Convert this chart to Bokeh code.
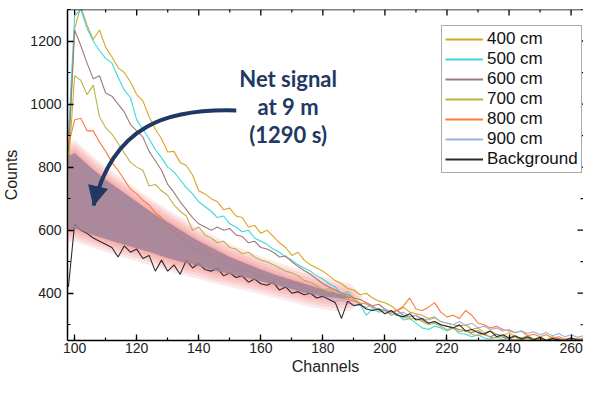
from bokeh.plotting import figure
from bokeh.models import (ColumnDataSource, Range1d, SingleIntervalTicker,
                          Legend, LegendItem, Arrow, NormalHead, Span)
from bokeh.core.properties import value
from bokeh.embed import file_html
from bokeh.resources import INLINE

# ---------------- data ----------------
channels = list(range(98, 266, 2))

s400 = [820, 1240, 1310, 1250, 1205, 1235, 1180, 1150, 1115, 1100,
        1070, 1030, 1010, 960, 920, 890, 848, 850, 815, 805,
        775, 725, 715, 700, 690, 665, 670, 645, 640, 610,
        615, 590, 600, 580, 560, 545, 520, 530, 505, 490,
        480, 470, 455, 440, 430, 415, 410, 395, 400, 385,
        375, 370, 360, 345, 355, 340, 335, 330, 320, 325,
        310, 305, 300, 295, 300, 285, 290, 275, 280, 270,
        265, 275, 262, 258, 265, 255, 260, 252, 262, 255,
        252, 258, 250, 255]
s500 = [900, 1280, 1300, 1240, 1200, 1170, 1145, 1130, 1085, 1045,
        1020, 950, 920, 890, 855, 830, 800, 785, 760, 735,
        715, 690, 675, 660, 640, 645, 620, 610, 595, 600,
        575, 565, 555, 540, 530, 515, 505, 490, 480, 470,
        455, 445, 430, 420, 395, 405, 380, 365, 330, 350,
        340, 345, 330, 335, 315, 320, 305, 290, 285, 295,
        290, 280, 290, 272, 270, 262, 268, 258, 255, 262,
        252, 258, 250, 255, 262, 252, 256, 250, 258, 252,
        250, 255, 252, 250]
s600 = [850, 1235, 1185, 1130, 1080, 1090, 1035, 1025, 1000, 975,
        935, 915, 895, 850, 820, 790, 745, 720, 690, 665,
        640, 620, 610, 600, 610, 600, 605, 585, 580, 560,
        565, 545, 540, 530, 515, 518, 500, 485, 472, 460,
        445, 430, 420, 410, 400, 395, 385, 380, 370, 360,
        365, 350, 340, 345, 330, 325, 330, 315, 305, 310,
        300, 295, 290, 285, 280, 275, 282, 268, 262, 270,
        260, 255, 262, 252, 258, 250, 255, 252, 250, 256,
        250, 252, 250, 252]
s700 = [800, 1090, 1075, 1030, 1060, 960, 925, 905, 875, 845,
        815, 800, 790, 740, 745, 725, 710, 680, 660, 645,
        600, 610, 585, 575, 560, 565, 545, 540, 525, 530,
        515, 505, 500, 490, 480, 470, 465, 455, 440, 435,
        425, 410, 415, 400, 390, 395, 380, 370, 365, 355,
        350, 345, 335, 330, 325, 318, 320, 310, 300, 305,
        295, 285, 290, 278, 282, 270, 265, 272, 260, 258,
        265, 255, 252, 260, 250, 256, 252, 250, 256, 250,
        254, 250, 256, 250]
s800 = [870, 950, 955, 915, 915, 880, 850, 815, 790, 760,
        730, 715, 695, 680, 655, 640, 610, 595, 575, 565,
        545, 535, 525, 520, 505, 500, 490, 485, 480, 470,
        465, 455, 450, 445, 440, 430, 435, 425, 420, 410,
        405, 400, 395, 400, 385, 380, 375, 365, 370, 355,
        350, 345, 340, 345, 360, 385, 350, 345, 355, 370,
        340, 325, 330, 320, 345, 330, 305, 300, 290, 295,
        285, 280, 275, 280, 265, 270, 262, 268, 258, 262,
        255, 258, 252, 258]
s900 = [780, 835, 815, 800, 780, 750, 735, 710, 695, 675,
        680, 655, 635, 605, 615, 595, 585, 575, 555, 545,
        535, 525, 515, 505, 500, 490, 485, 475, 470, 460,
        455, 450, 440, 435, 430, 420, 415, 410, 405, 400,
        395, 390, 385, 375, 380, 370, 365, 360, 355, 360,
        345, 350, 340, 335, 340, 325, 330, 320, 315, 322,
        310, 305, 300, 310, 298, 305, 290, 295, 285, 290,
        280, 285, 275, 280, 272, 278, 268, 275, 265, 272,
        262, 268, 260, 265]
sbg = [420, 620, 600, 590, 575, 565, 555, 545, 515, 550,
       530, 540, 510, 520, 470, 505, 470, 490, 460, 505,
       480, 495, 475, 470, 480, 455, 465, 450, 455, 435,
       445, 430, 425, 435, 410, 420, 400, 405, 395, 400,
       385, 390, 380, 370, 320, 375, 360, 365, 350, 345,
       350, 335, 345, 330, 325, 335, 315, 320, 305, 310,
       300, 295, 290, 300, 280, 285, 275, 270, 280, 262,
       268, 258, 265, 255, 262, 252, 260, 250, 256, 252,
       250, 258, 252, 250]

series_names = ["400 cm", "500 cm", "600 cm", "700 cm", "800 cm", "900 cm", "Background"]
series_values = [s400, s500, s600, s700, s800, s900, sbg]
series_colors = ["#DAA520", "#3DD8DC", "#A07A7A", "#BDB24A", "#FF7A3C", "#98B4E0", "#2B2B2B"]

# net-signal band (smooth envelope)
band_ch = [98, 100, 105, 110, 115, 120, 125, 130, 135, 140, 145, 150, 155, 160, 165, 170, 175, 180, 185, 189]
band_top = [835, 845, 800, 760, 725, 690, 655, 625, 595, 565, 540, 515, 495, 475, 458, 442, 428, 412, 398, 388]
band_bot = [600, 605, 588, 572, 557, 543, 528, 512, 498, 486, 472, 461, 450, 438, 425, 413, 400, 390, 384, 384]

note_lines = ["Net signal", "at 9 m", "(1290 s)"]
note_x = [168.8, 168.8, 168.8]
note_y = [1081, 992, 903]

# arrow (cubic bezier in data coords)
arrow_p0 = (152.1, 979.6)
arrow_c0 = (129.5, 985.9)
arrow_c1 = (112.5, 932.0)
arrow_tip = (106.1, 678.2)
arrow_base = (107.6, 739.7)

x_major = list(range(100, 261, 20))
x_minor = list(range(110, 261, 20))
y_major = list(range(400, 1201, 200))
y_minor = list(range(300, 1301, 200))

NAVY = "#1F3864"
FONT = "Liberation Sans"
X0, X1, Y0, Y1 = 97.7, 264.0, 250, 1300
W, H = 583, 380
BL, BT, BB = 66, 9, 40
FRAME_W, FRAME_H = W - BL, H - BT - BB
XPX = FRAME_W / (X1 - X0)
YPX = FRAME_H / (Y1 - Y0)

# ---------------- figure ----------------
p = figure(width=W, height=H, x_range=Range1d(X0, X1), y_range=Range1d(Y0, Y1),
           output_backend="svg", toolbar_location=None,
           min_border_left=BL, min_border_right=0, min_border_top=BT, min_border_bottom=BB)
p.xgrid.visible = False
p.ygrid.visible = False
p.outline_line_color = None
p.background_fill_color = "white"
p.border_fill_color = "white"

for ax, tk in [(p.xaxis[0], SingleIntervalTicker(interval=20, num_minor_ticks=2)),
               (p.yaxis[0], SingleIntervalTicker(interval=200, num_minor_ticks=2))]:
    ax.ticker = tk
    ax.axis_line_color = "black"
    ax.axis_line_width = 1.5
    ax.major_tick_line_color = "black"
    ax.minor_tick_line_color = "black"
    ax.major_tick_line_width = 1.3
    ax.minor_tick_line_width = 1.2
    ax.major_tick_in = 6
    ax.major_tick_out = 0
    ax.minor_tick_in = 3
    ax.minor_tick_out = 0
    ax.major_label_text_font = FONT
    ax.major_label_text_font_size = "14px"
    ax.major_label_text_color = "#222222"
    ax.axis_label_text_font = FONT
    ax.axis_label_text_font_size = "16px"
    ax.axis_label_text_font_style = "normal"
    ax.axis_label_text_color = "#222222"
p.xaxis.axis_label = "Channels"
p.yaxis.axis_label = "Counts"
p.xaxis.major_label_standoff = 2
p.xaxis.axis_label_standoff = 2
p.yaxis.major_label_standoff = 6
p.yaxis.axis_label_standoff = 7

# mirror frame line and ticks (top / right)
p.add_layout(Span(location=Y1, dimension="width", line_color="black", line_width=1.5))
p.segment(x0=x_major, x1=x_major, y0=[Y1] * len(x_major), y1=[Y1 - 6 / YPX] * len(x_major),
          line_color="black", line_width=1.3)
p.segment(x0=x_minor, x1=x_minor, y0=[Y1] * len(x_minor), y1=[Y1 - 3 / YPX] * len(x_minor),
          line_color="black", line_width=1.2)
p.segment(x0=[X1] * len(y_major), x1=[X1 - 6 / XPX] * len(y_major), y0=y_major, y1=y_major,
          line_color="black", line_width=1.3)
p.segment(x0=[X1] * len(y_minor), x1=[X1 - 3 / XPX] * len(y_minor), y0=y_minor, y1=y_minor,
          line_color="black", line_width=1.2)

# glow around the net-signal band (layered, slightly expanded copies)
for d in [13, 10, 7, 4, 1.5]:
    gx = [band_ch[0] - d / XPX] + band_ch + [band_ch[-1] + d / XPX] + band_ch[::-1]
    mid_end = (band_top[-1] + band_bot[-1]) / 2
    mid_start = (band_top[0] + band_bot[0]) / 2
    gy = [mid_start] + [t + d / YPX for t in band_top] + [mid_end] + [b - d / YPX for b in band_bot[::-1]]
    p.patch(gx, gy, fill_color="#F26B6B", fill_alpha=0.15, line_color=None)

# series
nan = float("nan")
src = ColumnDataSource(dict(ch=channels, **{f"s{i}": v for i, v in enumerate(series_values)}))
items = []
for i, (name, col) in enumerate(zip(series_names, series_colors)):
    p.line("ch", f"s{i}", source=src, line_color=col, line_width=1.1)
    dummy = p.line(x=[nan, nan], y=[nan, nan], line_color=col, line_width=1.8)
    items.append(LegendItem(label=name, renderers=[dummy]))

# band fill
poly_x = band_ch + band_ch[::-1]
poly_y = band_top + band_bot[::-1]
p.patch(poly_x, poly_y, fill_color="#9E8298", fill_alpha=0.85, line_color=None)

# arrow
p.bezier(x0=[arrow_p0[0]], y0=[arrow_p0[1]], x1=[arrow_tip[0]], y1=[arrow_tip[1]],
         cx0=[arrow_c0[0]], cy0=[arrow_c0[1]], cx1=[arrow_c1[0]], cy1=[arrow_c1[1]],
         line_color=NAVY, line_width=4)
p.add_layout(Arrow(end=NormalHead(size=19, fill_color=NAVY, line_color=NAVY),
                   x_start=arrow_base[0], y_start=arrow_base[1],
                   x_end=arrow_tip[0], y_end=arrow_tip[1],
                   line_color=NAVY, line_width=1))

# annotation text
tsrc = ColumnDataSource(dict(x=note_x, y=note_y, t=note_lines))
p.text("x", "y", text="t", source=tsrc, text_font=value("Lato"), text_font_style="bold",
       text_font_size="22px", text_color=NAVY, text_align="center", text_baseline="middle")

legend = Legend(items=items, location=(374, 167))
legend.border_line_color = "#555555"
legend.border_line_width = 1
legend.background_fill_color = "white"
legend.background_fill_alpha = 1
legend.padding = 3
legend.spacing = 0
legend.margin = 0
legend.glyph_width = 38
legend.glyph_height = 20
legend.label_height = 20
legend.label_standoff = 4
legend.label_text_font = FONT
legend.label_text_font_size = "17px"
legend.label_text_color = "#111111"
p.add_layout(legend, "center")

open("out.html", "w").write(file_html(p, INLINE))
